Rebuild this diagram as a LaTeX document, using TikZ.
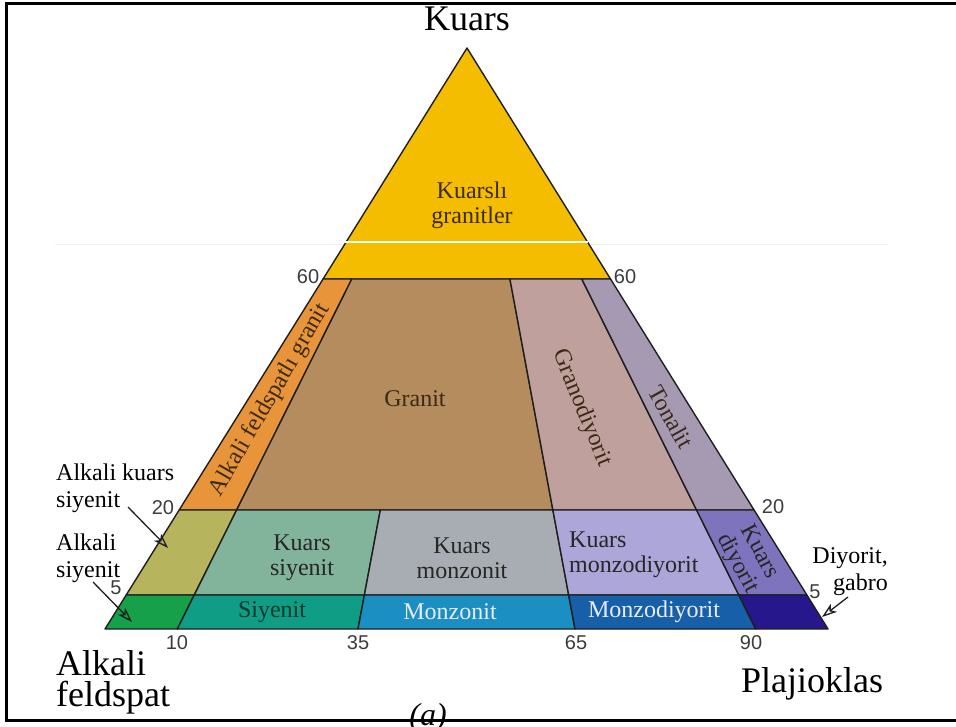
\documentclass[tikz,border=0pt]{standalone}
\usepackage{fontspec}
\setmainfont{Liberation Serif}
\setsansfont{Liberation Sans}
\usetikzlibrary{arrows.meta,calc}
\definecolor{QzYellow}{HTML}{F5BD00}
\definecolor{AfsGranite}{HTML}{E8943A}
\definecolor{Granite}{HTML}{B58C5E}
\definecolor{Granodiorite}{HTML}{BFA09C}
\definecolor{Tonalite}{HTML}{A69AB2}
\definecolor{AfsQzSyenite}{HTML}{B6B55E}
\definecolor{QzSyenite}{HTML}{82B39B}
\definecolor{QzMonzonite}{HTML}{A7ADB2}
\definecolor{QzMonzodiorite}{HTML}{ADA6D9}
\definecolor{QzDiorite}{HTML}{7E74BD}
\definecolor{AfsSyenite}{HTML}{16A04A}
\definecolor{Syenite}{HTML}{0F9E85}
\definecolor{Monzonite}{HTML}{1B8EC2}
\definecolor{Monzodiorite}{HTML}{1760A9}
\definecolor{Diorite}{HTML}{26188C}
\definecolor{Edge}{HTML}{1E1E1E}
\definecolor{RockText}{HTML}{3B2A14}
\definecolor{TickGray}{HTML}{3C3C3C}

\begin{document}
\begin{tikzpicture}[x=1pt,y=-1pt,
  field/.style={draw=Edge, line width=1.4pt, line join=round},
  rock/.style={font=\fontsize{24}{25}\selectfont, text=RockText, align=center, inner sep=0pt},
  side/.style={font=\fontsize{24}{27}\selectfont, inner sep=0pt},
  corner/.style={font=\fontsize{36}{31}\selectfont, inner sep=0pt, align=left},
  tick/.style={font=\sffamily\fontsize{20}{20}\selectfont, text=TickGray, inner sep=0pt},
  pointer/.style={draw=Edge, line width=1.3pt, -{Stealth[open,length=15pt,width=10pt,inset=4pt]}}]
  \useasboundingbox (0,0) rectangle (956,726);
  \draw[line width=3pt] (956,3) -- (6.5,3) -- (6.5,720) -- (956,720);
  \draw[black!6, line width=1pt] (55,244) -- (888,244);

  \coordinate (apex) at (467,48);
  \foreach \n/\x in {0/105,10/177.3,35/358,65/575,90/755.7,100/828}{
    \coordinate (base\n) at (\x,629);
    \coordinate (five\n) at ($(apex)!0.9415!(base\n)$);
    \coordinate (twenty\n) at ($(apex)!0.7952!(base\n)$);
    \coordinate (sixty\n) at ($(apex)!0.3976!(base\n)$);
  }

  \filldraw[field, fill=QzYellow] (apex) -- (sixty100) -- (sixty0) -- cycle;
  \foreach \l/\r/\c in {0/10/AfsGranite,10/65/Granite,65/90/Granodiorite,90/100/Tonalite}
    \filldraw[field, fill=\c] (sixty\l) -- (sixty\r) -- (twenty\r) -- (twenty\l) -- cycle;
  \foreach \l/\r/\c in {0/10/AfsQzSyenite,10/35/QzSyenite,35/65/QzMonzonite,65/90/QzMonzodiorite,90/100/QzDiorite}
    \filldraw[field, fill=\c] (twenty\l) -- (twenty\r) -- (five\r) -- (five\l) -- cycle;
  \foreach \l/\r/\c in {0/10/AfsSyenite,10/35/Syenite,35/65/Monzonite,65/90/Monzodiorite,90/100/Diorite}
    \filldraw[field, fill=\c] (five\l) -- (five\r) -- (base\r) -- (base\l) -- cycle;
  \draw[white, line width=1.5pt] (345,242) -- (588,242);

  \node[rock] (qzGranite) at (472,205) {Kuarslı\\granitler};
  \node[rock, rotate=60] (afsGranite) at (270,400) {Alkali feldspatlı granit};
  \node[rock] (granite) at (415,399) {Granit};
  \node[rock, rotate=-68] (granodiorite) at (582,408) {Granodiyorit};
  \node[rock, rotate=-61] (tonalite) at (671,417) {Tonalit};
  \node[rock, text=black!85] (qzSyenite) at (302,558) {Kuars\\siyenit};
  \node[rock, text=black!85] (qzMonzonite) at (462,558) {Kuars\\monzonit};
  \node[rock, text=black!85, align=left, anchor=west] (qzMonzodiorite) at (569,555) {Kuars\\monzodiyorit};
  \node[rock, text=black!85, rotate=-62] (qzDiorite) at (748,558) {Kuars\\diyorit};
  \node[rock, text=Syenite!35!black] (syenite) at (272,612) {Siyenit};
  \node[rock, text=white!92!blue] (monzonite) at (450,612) {Monzonit};
  \node[rock, text=white!92!blue] (monzodiorite) at (654,612) {Monzodiyorit};

  \node[tick] (qLeft60) at (308,277) {60};
  \node[tick] (qRight60) at (625,277) {60};
  \node[tick] (qLeft20) at (163,508) {20};
  \node[tick] (qRight20) at (773,507) {20};
  \node[tick] (qLeft5) at (116,588) {5};
  \node[tick] (qRight5) at (815,592) {5};
  \foreach \n/\x in {10/177,35/358,65/576,90/751}
    \node[tick] (p\n) at (\x,643) {\n};

  \node[corner, anchor=base] (quartz) at (467,30) {Kuars};
  \node[corner, anchor=west] (alkaliFs) at (56,682) {Alkali\\feldspat};
  \node[corner, anchor=base] (plagioclase) at (812,692) {Plajioklas};
  \node[font=\itshape\fontsize{32}{32}\selectfont, inner sep=0pt, anchor=base] (caption) at (428,725) {(a)};

  \node[side, align=left, anchor=west] (afsQzSyeniteLabel) at (56,488) {Alkali kuars\\siyenit};
  \node[side, align=left, anchor=west] (afsSyeniteLabel) at (56,558) {Alkali\\siyenit};
  \node[side, align=right, anchor=east] (dioriteLabel) at (888,572) {Diyorit,\\gabro};
  \coordinate (afsQzSyeniteTail) at (128,507);
  \coordinate (afsQzSyeniteTip) at (168,548);
  \coordinate (afsSyeniteTail) at (93,582);
  \coordinate (afsSyeniteTip) at (132,622);
  \coordinate (dioriteTail) at (848,597);
  \coordinate (dioriteTip) at (822,617);
  \draw[pointer] (afsQzSyeniteTail) -- (afsQzSyeniteTip);
  \draw[pointer] (afsSyeniteTail) -- (afsSyeniteTip);
  \draw[pointer] (dioriteTail) -- (dioriteTip);
\end{tikzpicture}
\end{document}
